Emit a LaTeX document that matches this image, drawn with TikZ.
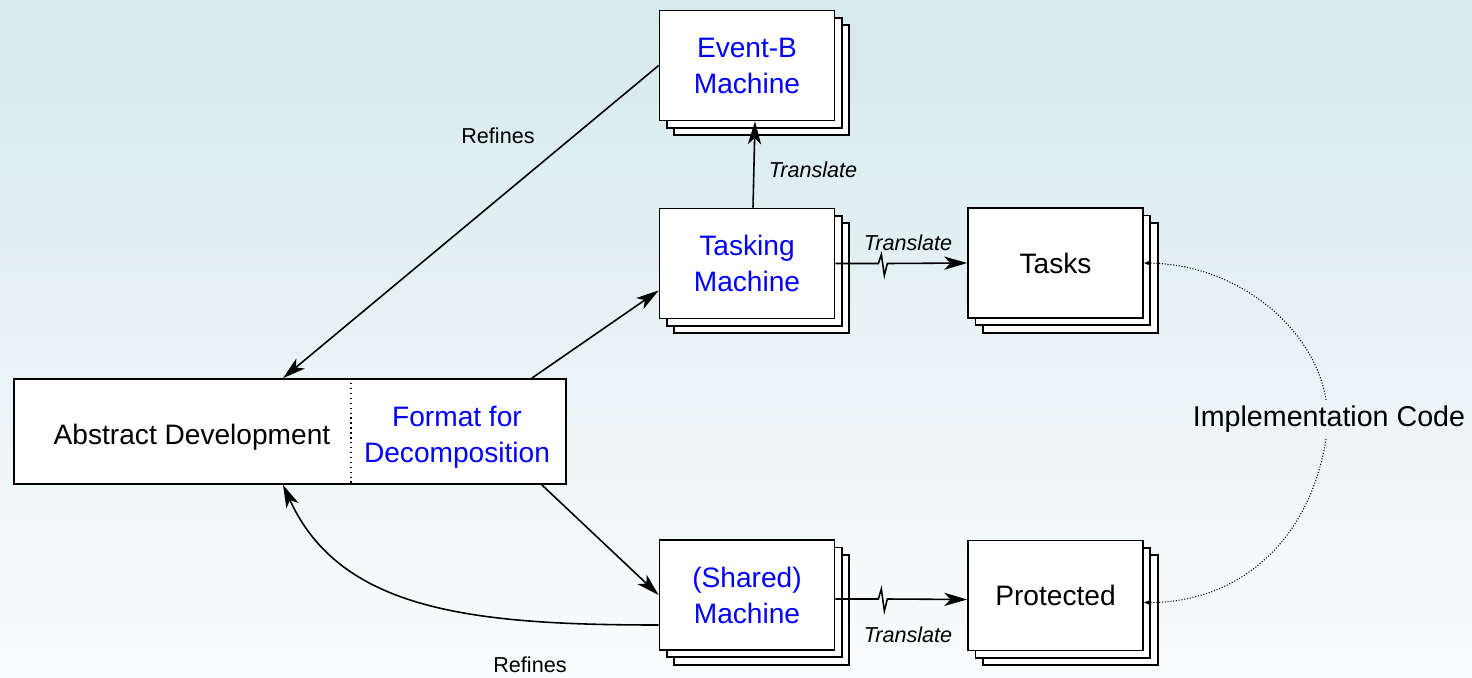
\documentclass[tikz,border=0pt]{standalone}
\usepackage{fontspec}
\setmainfont{Liberation Sans}
\usetikzlibrary{arrows.meta,shadows}
\definecolor{bgtop}{RGB}{214,233,236}
\definecolor{bgbottom}{RGB}{250,252,253}
\definecolor{fmtblue}{RGB}{0,0,255}

\begin{document}
\begin{tikzpicture}[x=0.02cm,y=-0.02cm,>={Stealth[length=13pt,width=7.5pt,inset=3.5pt]},
    stack/.style={draw,fill=white,line width=1pt,minimum width=3.5cm,minimum height=2.2cm,
        align=center,font=\fontsize{16}{20.5}\selectfont,
        double copy shadow={shadow xshift=4.2pt,shadow yshift=-4.2pt}},
    lbl/.style={font=\fontsize{12.3}{14}\selectfont},
    tr/.style={font=\fontsize{12.3}{14}\selectfont\itshape},
    link/.style={->,line width=0.9pt},
    impl/.style={-{Stealth[length=4pt,width=3pt]},densely dotted,line width=0.6pt}]
    \useasboundingbox (0,0) rectangle (1472,677);
    \shade[top color=bgtop,bottom color=bgbottom] (0,0) rectangle (1472,677);

    % machines
    \node[stack,text=fmtblue] (eventb) at (747,65.5) {Event-B\\Machine};
    \node[stack,text=fmtblue] (tasking) at (747,263.5) {Tasking\\Machine};
    \node[stack,text=fmtblue] (shared) at (747,595) {(Shared)\\Machine};
    \node[stack] (tasks) at (1055.5,263) {Tasks};
    \node[stack] (protected) at (1055.5,595.5) {Protected};

    % abstract development
    \node[draw,fill=white,line width=1pt,minimum width=11.04cm,minimum height=2.1cm] (abstract) at (290,431.5) {};
    \node[font=\fontsize{16}{20.5}\selectfont] (absdev) at (192,437) {Abstract Development};
    \node[font=\fontsize{16}{20.5}\selectfont,text=fmtblue,align=center] (format) at (457,437) {Format for\\Decomposition};
    \coordinate (split) at (351,431);
    \draw[dotted,line width=0.8pt] (split |- abstract.north) -- (split |- abstract.south);

    % refines
    \draw[link] (eventb.west) -- ([xshift=-0.14cm]abstract.north);
    \node[lbl] (refinestop) at (498,136) {Refines};
    \draw[link] ([yshift=-0.6cm]shared.west) .. controls (470,625) and (340,610) .. ([xshift=-0.14cm]abstract.south);
    \node[lbl] (refinesbot) at (530,665) {Refines};

    % decomposition
    \draw[link] ([xshift=-0.7cm]abstract.north east) -- (tasking.197);
    \draw[link] ([xshift=-0.5cm]abstract.south east) -- (shared.west);

    % translate
    \draw[link] ([xshift=0.12cm]tasking.north) -- ([xshift=0.16cm]eventb.south);
    \node[tr] (trup) at (813,170) {Translate};
    \draw[link] (tasking.east) -- ++(43,0) -- ++(3,-9) -- ++(3,21) -- ++(3,-12) -- (tasks.west);
    \node[tr] (trtasks) at (908,243) {Translate};
    \draw[link] ([yshift=-0.08cm]shared.east) -- ++(43,0) -- ++(3,-10) -- ++(3,22) -- ++(3,-12) -- ([yshift=-0.08cm]protected.west);
    \node[tr] (trprot) at (908,635) {Translate};

    % implementation code
    \node[font=\fontsize{16.3}{20}\selectfont] (impl) at (1329,419.5) {Implementation Code};
    \draw[impl] ([xshift=-0.06cm]impl.north) .. controls (1315,330) and (1240,264) .. (tasks.east);
    \draw[impl] ([xshift=-0.06cm]impl.south) .. controls (1310,540) and (1240,603) .. ([yshift=-0.14cm]protected.east);
\end{tikzpicture}
\end{document}
